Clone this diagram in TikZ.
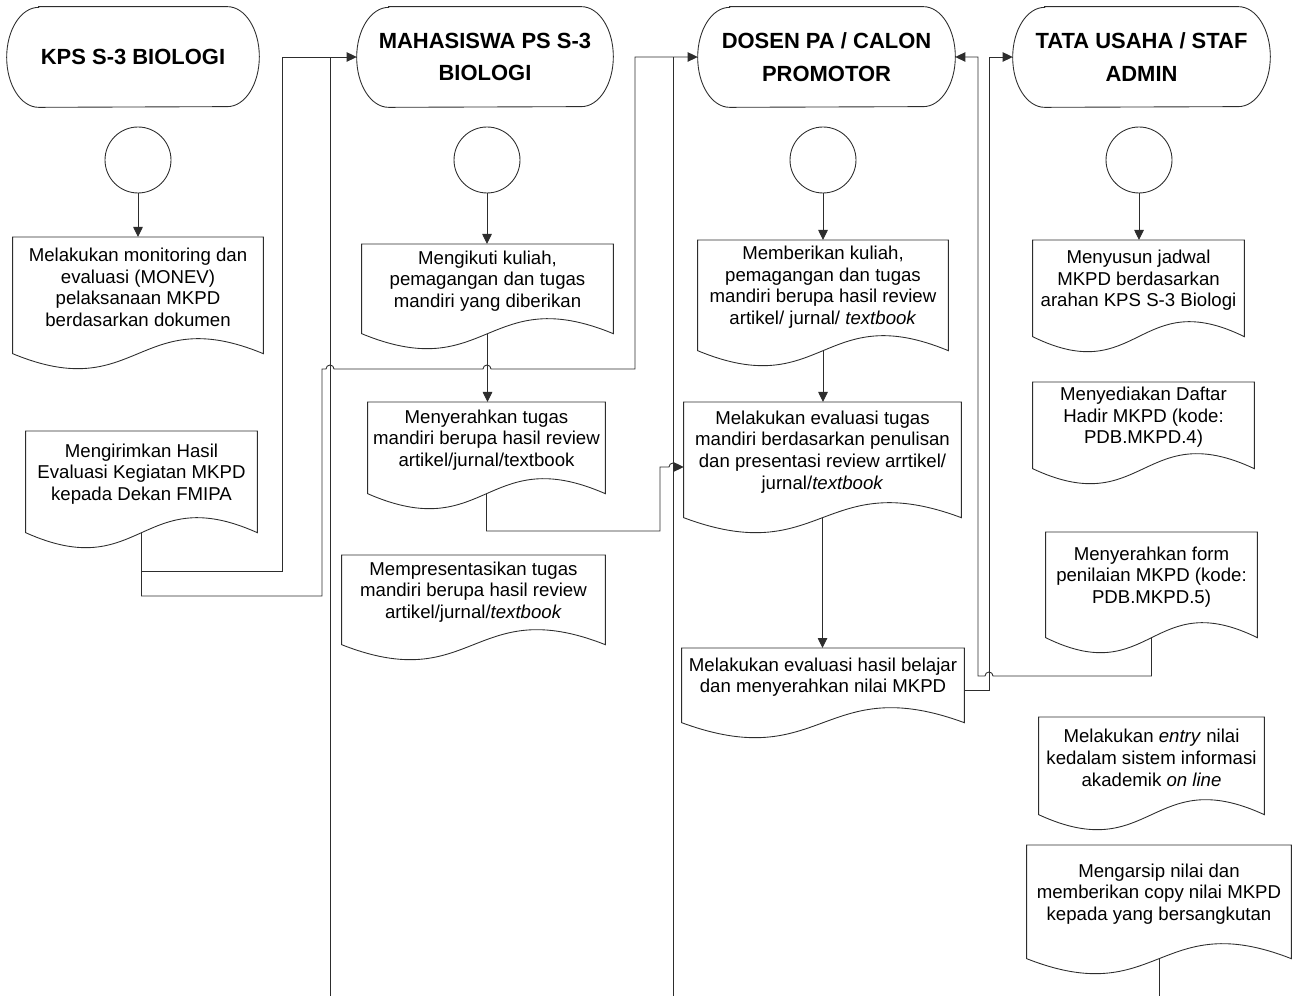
\documentclass[tikz,border=0pt]{standalone}
\usepackage{fontspec}
\setmainfont{Liberation Sans}
\usepackage{tikz}
\usetikzlibrary{arrows.meta}
\definecolor{inkline}{RGB}{45, 45, 45}

\tikzset{
    lanehead/.style={draw=none, minimum height=2cm, inner sep=0pt, align=center,
                     font=\fontsize{12.5}{18.5}\selectfont\bfseries},
    startpt/.style={circle, draw=inkline, line width=0.5pt, minimum size=1.32cm, inner sep=0pt},
    docbox/.style={draw=none, anchor=north, inner sep=0pt, align=center,
                   font=\fontsize{10.6}{12.3}\selectfont},
    outline/.style={draw=inkline, line width=0.5pt},
    link/.style={draw=inkline, line width=0.5pt},
    flow/.style={link, -{Triangle[length=0.2cm, width=0.19cm]}},
}

% terminator with half-elliptic ends round a lane heading
\newcommand{\laneshape}[1]{%
    \draw[outline] ([xshift=0.64cm]#1.north west) -- ([xshift=-0.64cm]#1.north east)
        arc[start angle=90, end angle=-90, x radius=0.64cm, y radius=1cm]
        -- ([xshift=0.64cm]#1.south west)
        arc[start angle=270, end angle=90, x radius=0.64cm, y radius=1cm] -- cycle;}
% document symbol: straight top and sides, wavy foot
\newcommand{\docshape}[1]{%
    \draw[outline] (#1.north west) -- (#1.north east) -- ([yshift=-0.32cm]#1.south east)
        .. controls ([yshift=0.72cm]#1.south) and ([yshift=-1.36cm]#1.south) ..
        ([yshift=-0.32cm]#1.south west) -- cycle;
    \coordinate (#1-out) at ([yshift=-0.32cm]#1.south);}

\begin{document}
\begin{tikzpicture}[x=0.02cm, y=-0.02cm]
    \useasboundingbox (0,0) rectangle (1299,996);

    % lane headings
    \node[lanehead, minimum width=5.04cm] (hKPS) at ( 133.0,57) {KPS S-3 BIOLOGI};
    \node[lanehead, minimum width=5.12cm] (hMHS) at ( 485.0,57) {MAHASISWA PS S-3\\BIOLOGI};
    \node[lanehead, minimum width=5.14cm] (hDSN) at ( 826.5,57) {DOSEN PA / CALON\\PROMOTOR};
    \node[lanehead, minimum width=5.14cm] (hTU)  at (1141.5,57) {TATA USAHA / STAF\\ADMIN};
    \foreach \h in {hKPS,hMHS,hDSN,hTU} \laneshape{\h};

    % start points
    \node[startpt] (c1) at ( 138,160) {};
    \node[startpt] (c2) at ( 487,160) {};
    \node[startpt] (c3) at ( 823,160) {};
    \node[startpt] (c4) at (1139,160) {};

    % KPS S-3 Biologi
    \node[docbox, minimum width=5.00cm, minimum height=2.00cm] (d1) at (138.0,237)
        {Melakukan monitoring dan\\evaluasi (MONEV)\\pelaksanaan MKPD\\berdasarkan dokumen};
    \node[docbox, minimum width=4.62cm, minimum height=1.70cm] (d2) at (141.5,431)
        {Mengirimkan Hasil\\Evaluasi Kegiatan MKPD\\kepada Dekan FMIPA};

    % Mahasiswa
    \node[docbox, minimum width=5.02cm, minimum height=1.46cm] (m1) at (487.5,244)
        {Mengikuti kuliah,\\pemagangan dan tugas\\mandiri yang diberikan};
    \node[docbox, minimum width=4.74cm, minimum height=1.50cm] (m2) at (486.5,402)
        {Menyerahkan tugas\\mandiri berupa hasil review\\artikel/jurnal/textbook};
    \node[docbox, minimum width=5.26cm, minimum height=1.46cm] (m3) at (473.5,555)
        {Mempresentasikan tugas\\mandiri berupa hasil review\\artikel/jurnal/\textit{textbook}};

    % Dosen PA / calon promotor
    \node[docbox, minimum width=5.00cm, minimum height=1.88cm] (n1) at (823.0,240)
        {Memberikan kuliah,\\pemagangan dan tugas\\mandiri berupa hasil review\\artikel/ jurnal/ \textit{textbook}};
    \node[docbox, minimum width=5.54cm, minimum height=1.98cm] (n2) at (822.5,402)
        {Melakukan evaluasi tugas\\mandiri berdasarkan penulisan\\dan presentasi review arrtikel/\\jurnal/\textit{textbook}};
    \node[docbox, minimum width=5.64cm, minimum height=1.16cm] (n3) at (823.0,648)
        {Melakukan evaluasi hasil belajar\\dan menyerahkan nilai MKPD};

    % Tata usaha / staf admin
    \node[docbox, minimum width=4.22cm, minimum height=1.60cm] (t1) at (1138.5,240)
        {Menyusun jadwal\\MKPD berdasarkan\\arahan KPS S-3 Biologi};
    \node[docbox, minimum width=4.42cm, minimum height=1.40cm] (t2) at (1143.5,382)
        {Menyediakan Daftar\\Hadir MKPD (kode:\\PDB.MKPD.4)};
    \node[docbox, minimum width=4.22cm, minimum height=1.78cm] (t3) at (1151.5,532)
        {Menyerahkan form\\penilaian MKPD (kode:\\PDB.MKPD.5)};
    \node[docbox, minimum width=4.50cm, minimum height=1.62cm] (t4) at (1151.5,717)
        {Melakukan \textit{entry} nilai\\kedalam sistem informasi\\akademik \textit{on line}};
    \node[docbox, minimum width=5.28cm, minimum height=1.94cm] (t5) at (1159.0,845)
        {Mengarsip nilai dan\\memberikan copy nilai MKPD\\kepada yang bersangkutan};

    \foreach \n in {d1,d2,m1,m2,m3,n1,n2,n3,t1,t2,t3,t4,t5} \docshape{\n};

    % off-page ends
    \coordinate (fromMHS) at (330,996);
    \coordinate (fromDSN) at (673,996);
    \coordinate (toEnd)   at (t5-out |- 0,996);

    % connectors
    \draw[flow] (c1.south) -- (c1.south |- d1.north);
    \draw[flow] (c2.south) -- (c2.south |- m1.north);
    \draw[flow] (c3.south) -- (c3.south |- n1.north);
    \draw[flow] (c4.south) -- (c4.south |- t1.north);
    \draw[flow] (m1-out) -- (m1-out |- m2.north);
    \draw[flow] (n1-out) -- (n1-out |- n2.north);
    \draw[flow] (n2-out) -- (n2-out |- n3.north);

    \draw[link] (fromMHS) -- (330,57);
    \draw[link] (fromDSN) -- (673,57);
    \draw[flow] (d2-out) |- (282,571) |- (hMHS.west);
    \draw[flow] (d2-out) |- (322,596) -- (322,369) -- (326,369)
        arc[start angle=180, end angle=0, radius=0.08cm] -- (483,369)
        arc[start angle=180, end angle=0, radius=0.08cm] -- (635,369) |- (hDSN.west);
    \draw[flow] (m2-out) |- (660,531) -- (660,467) -- (669,467)
        arc[start angle=180, end angle=0, radius=0.08cm] -- (n2.west |- 0,467);
    \draw[flow] (n3.east |- 0,690) -| (989,57) -- (hTU.west);
    \draw[flow] (t3-out) |- (993,676)
        arc[start angle=0, end angle=180, radius=0.08cm] -- (978,676) |- (hDSN.east);
    \draw[link] (t5-out) -- (toEnd);
\end{tikzpicture}
\end{document}
